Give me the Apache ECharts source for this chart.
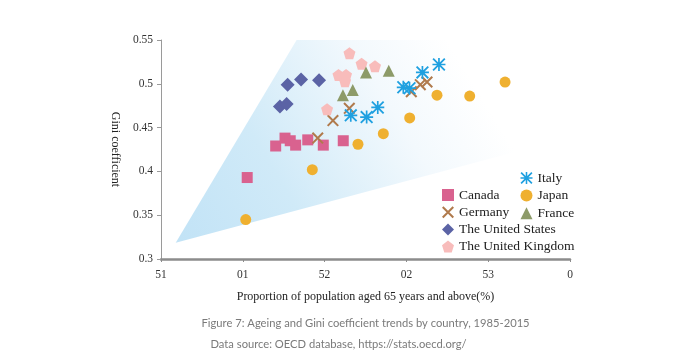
<!DOCTYPE html>
<html>
<head>
<meta charset="utf-8">
<script src="https://cdn.jsdelivr.net/npm/echarts@6/dist/echarts.min.js"></script>
<style>
html,body{margin:0;padding:0;background:#fff;}
#chart{width:690px;height:362px;}
</style>
</head>
<body>
<div id="chart"></div>
<script>
// ---- data (x: % population aged 65+, y: Gini coefficient) ----
var xTickLabels = ["51", "01", "52", "02", "53", "0"];
var canada = [[10.27,0.393],[12.01,0.429],[12.58,0.438],[12.90,0.435],[13.23,0.430],[13.97,0.436],[14.92,0.430],[16.14,0.435]];
var germany = [[14.58,0.438],[15.51,0.458],[16.51,0.472],[20.30,0.491],[20.85,0.499],[21.26,0.502]];
var unitedStates = [[12.27,0.474],[12.68,0.477],[12.74,0.499],[13.56,0.505],[14.66,0.504]];
var unitedKingdom = [[15.15,0.471],[15.85,0.510],[16.25,0.503],[16.31,0.510],[16.52,0.535],[17.26,0.523],[18.08,0.520]];
var france = [[16.12,0.487],[16.72,0.493],[17.53,0.513],[18.92,0.515]];
var japan = [[10.18,0.345],[14.25,0.402],[17.04,0.431],[18.59,0.443],[20.20,0.461],[21.87,0.487],[23.87,0.486],[26.03,0.502]];
var italy = [[16.60,0.464],[17.57,0.462],[18.25,0.473],[19.81,0.496],[20.19,0.495],[20.98,0.513],[21.99,0.522]];
// decorative background wedge (in data coordinates)
var bandVertices = [[5.90,0.3186],[13.29,0.55],[30,0.55],[30,0.4389]];

var SERIF = "'Liberation Serif', 'Times New Roman', serif";
var xPath = 'path://M0 1.2L1.2 0L10 8.8L8.8 10Z M8.8 0L10 1.2L1.2 10L0 8.8Z';
var starPath = 'path://M4.35 0L5.65 0L5.65 10L4.35 10Z M0 4.35L10 4.35L10 5.65L0 5.65Z M0 1.0L1.0 0L10 9.0L9.0 10Z M9.0 0L10 1.0L1.0 10L0 9.0Z';
var pentPath = 'path://M5 0L10 3.8L8.1 10L1.9 10L0 3.8Z';

var chart = echarts.init(document.getElementById('chart'), null, {renderer:'canvas'});
var option = {
  animation: false,
  backgroundColor: '#ffffff',
  textStyle: {fontFamily: SERIF},
  title: [
    {text: 'Figure 7: Ageing and Gini coefficient trends by country, 1985-2015', left: 201.5, top: 318, padding: 0,
     textStyle: {fontFamily: 'Lato', fontWeight: 'normal', fontSize: 11.2, color: '#7a7a7a'}},
    {text: 'Data source: OECD database, https://stats.oecd.org/', left: 210.5, top: 339, padding: 0,
     textStyle: {fontFamily: 'Lato', fontWeight: 'normal', fontSize: 11.2, color: '#7a7a7a'}}
  ],
  grid: {left: 161, right: 120, top: 40, bottom: 103},
  xAxis: {
    type: 'value', min: 5, max: 30, interval: 5,
    name: 'Proportion of population aged 65 years and above(%)',
    nameLocation: 'middle', nameGap: 32,
    nameTextStyle: {fontFamily: SERIF, fontSize: 12, color: '#222'},
    axisLine: {show: true, lineStyle: {color: '#8c8c8c', width: 2.5}},
    axisTick: {show: true, length: 3, lineStyle: {color: '#8c8c8c', width: 1}},
    axisLabel: {margin: 10, fontFamily: SERIF, fontSize: 11.5, color: '#333',
      formatter: function (v) { return xTickLabels[Math.round((v - 5) / 5)]; }},
    splitLine: {show: false}
  },
  yAxis: {
    type: 'value', min: 0.3, max: 0.55, interval: 0.05,
    name: 'Gini coefficient', nameLocation: 'middle', nameGap: 40, nameRotate: -90,
    nameTextStyle: {fontFamily: SERIF, fontSize: 12, color: '#222'},
    axisLine: {show: true, lineStyle: {color: '#9a9a9a', width: 1}},
    axisTick: {show: true, length: 4, lineStyle: {color: '#9a9a9a'}},
    axisLabel: {margin: 8, fontFamily: SERIF, fontSize: 11.5, color: '#333'},
    splitLine: {show: false}
  },
  legend: [
    {data: ['Canada', 'Germany', 'The United States', 'The United Kingdom'],
     orient: 'vertical', left: 442, top: 188, padding: 0, itemWidth: 12, itemHeight: 12, itemGap: 3.2,
     textStyle: {fontFamily: SERIF, fontSize: 13.5, color: '#222'}},
    {data: ['Italy', 'Japan', 'France'],
     orient: 'vertical', left: 520.5, top: 171, padding: 0, itemWidth: 12, itemHeight: 12, itemGap: 3.6,
     textStyle: {fontFamily: SERIF, fontSize: 13.5, color: '#222'}}
  ],
  series: [
    {
      type: 'custom', name: 'band', silent: true, z: 0, clip: true,
      data: [0],
      renderItem: function (params, api) {
        var pts = bandVertices.map(function (p) { return api.coord(p); });
        return {
          type: 'polygon',
          shape: {points: pts},
          style: {
            fill: new echarts.graphic.LinearGradient(0.0, 0.95, 0.72, 0.1, [
              {offset: 0, color: '#c2e3f6'},
              {offset: 0.35, color: '#d0eaf8'},
              {offset: 0.75, color: '#f3f9fd'},
              {offset: 1, color: '#ffffff'}
            ])
          }
        };
      }
    },
    {name: 'Canada', type: 'scatter', data: canada, symbol: 'rect', symbolSize: 11, itemStyle: {color: '#d9628f', opacity: 1}},
    {name: 'Germany', type: 'scatter', data: germany, symbol: xPath, symbolSize: 12, itemStyle: {color: '#b07a4c', opacity: 1}},
    {name: 'The United States', type: 'scatter', data: unitedStates, symbol: 'diamond', symbolSize: 14, itemStyle: {color: '#5b63a5', opacity: 1}},
    {name: 'The United Kingdom', type: 'scatter', data: unitedKingdom, symbol: pentPath, symbolSize: 12, itemStyle: {color: '#f8bcbb', opacity: 1}},
    {name: 'France', type: 'scatter', data: france, symbol: 'triangle', symbolSize: 12, itemStyle: {color: '#8d9b69', opacity: 1}},
    {name: 'Japan', type: 'scatter', data: japan, symbol: 'circle', symbolSize: 11, itemStyle: {color: '#efb030', opacity: 1}},
    {name: 'Italy', type: 'scatter', data: italy, symbol: starPath, symbolSize: 13, itemStyle: {color: '#1fa0e0', opacity: 1}}
  ]
};
chart.setOption(option);
</script>
</body>
</html>
